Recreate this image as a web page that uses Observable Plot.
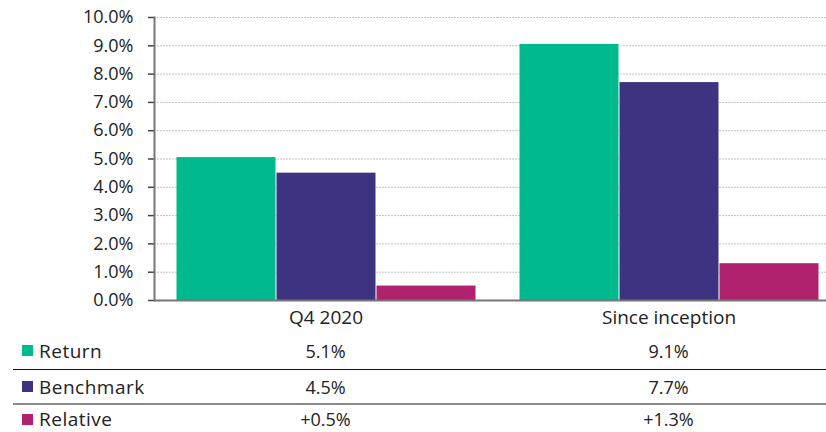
<!DOCTYPE html>
<html>
<head>
<meta charset="utf-8">
<script src="https://cdn.jsdelivr.net/npm/d3@7"></script>
<script src="https://cdn.jsdelivr.net/npm/@observablehq/plot@0.6"></script>
<style>
  html, body { margin: 0; padding: 0; background: #fff; }
  body { width: 826px; height: 432px; overflow: hidden; font-family: "Open Sans", sans-serif; color: #222; }
  #chart svg { display: block; }
  .tbl { position: relative; width: 826px; }
  .row { position: relative; margin-left: 13px; width: 813px; font-size: 18px; line-height: 16px; }
  .r0 { height: 37px; border-bottom: 1.5px solid #111; }
  .r1 { height: 33px; border-bottom: 2px solid #8a8a8a; }
  .r2 { height: 28px; }
  .lab { position: absolute; left: 9px; top: 50%; transform: translateY(-50%); display: flex; align-items: center; white-space: nowrap; font-size: 19px; letter-spacing: 0.5px; }
  .sw { width: 11px; height: 11px; display: inline-block; margin-right: 6px; }
  .val { position: absolute; top: 50%; transform: translate(-50%, -50%); white-space: nowrap; }
</style>
</head>
<body>
<div id="chart"></div>
<div class="tbl" id="tbl"></div>
<script>
// ---- data ----
const periods = ["Q4 2020", "Since inception"];
const series = ["Return", "Benchmark", "Relative"];
const seriesColors = ["#00b98e", "#3c3480", "#b0226e"];
const returnValues = [5.05, 9.05];
const benchmarkValues = [4.5, 7.7];
const relativeValues = [0.51, 1.3];
const returnLabels = ["5.1%", "9.1%"];
const benchmarkLabels = ["4.5%", "7.7%"];
const relativeLabels = ["+0.5%", "+1.3%"];
const yTicks = [0, 1, 2, 3, 4, 5, 6, 7, 8, 9, 10];

const valuesBySeries = [returnValues, benchmarkValues, relativeValues];
const labelsBySeries = [returnLabels, benchmarkLabels, relativeLabels];

const data = [];
periods.forEach((p, i) => {
  series.forEach((s, j) => {
    data.push({period: p, series: s, value: valuesBySeries[j][i]});
  });
});

const font = '"Open Sans", sans-serif';

const plot = Plot.plot({
  width: 826,
  height: 332,
  marginLeft: 154,
  marginRight: -14,
  marginTop: 17,
  marginBottom: 32,
  style: {fontFamily: font, fontSize: "18px", color: "#222", background: "#fff"},
  fx: {domain: periods, padding: 0, axis: null, label: null},
  x: {domain: series, axis: null, paddingInner: 0, paddingOuter: 0.21},
  y: {domain: [0, 10], axis: null},
  color: {domain: series, range: seriesColors},
  marks: [
    Plot.ruleY(yTicks.filter(d => d > 0), {y: d => d, stroke: "#c4c4c4", strokeDasharray: "2,1"}),
    Plot.barY(data, {fx: "period", x: "series", y: "value", fill: "series", insetLeft: 0.5, insetRight: 0.5}),
    Plot.axisY({ticks: yTicks, tickFormat: d => d.toFixed(1) + "%", tickSize: 6, tickPadding: 15, stroke: "#444", strokeWidth: 1.5, fontSize: 18, fill: "#222", label: null}),
    Plot.frame({anchor: "left", stroke: "#777", strokeWidth: 2, facet: "super"}),
    Plot.ruleY([0], {stroke: "#777", strokeWidth: 2}),
    Plot.axisFx({anchor: "bottom", tickSize: 0, tickPadding: 10, fontSize: 19, fill: "#222", label: null})
  ]
});
document.getElementById("chart").appendChild(plot);

// ---- table below, aligned to the fx scale ----
const fxScale = plot.scale("fx");
const centers = periods.map(p => fxScale.apply(p) + fxScale.bandwidth / 2);
const tbl = document.getElementById("tbl");
series.forEach((s, j) => {
  const row = document.createElement("div");
  row.className = "row r" + j;
  const lab = document.createElement("div");
  lab.className = "lab";
  const sw = document.createElement("span");
  sw.className = "sw";
  sw.style.background = seriesColors[j];
  lab.appendChild(sw);
  lab.appendChild(document.createTextNode(s));
  row.appendChild(lab);
  periods.forEach((p, i) => {
    const v = document.createElement("div");
    v.className = "val";
    v.style.left = (centers[i] - 13) + "px";
    v.textContent = labelsBySeries[j][i];
    row.appendChild(v);
  });
  tbl.appendChild(row);
});
</script>
</body>
</html>
